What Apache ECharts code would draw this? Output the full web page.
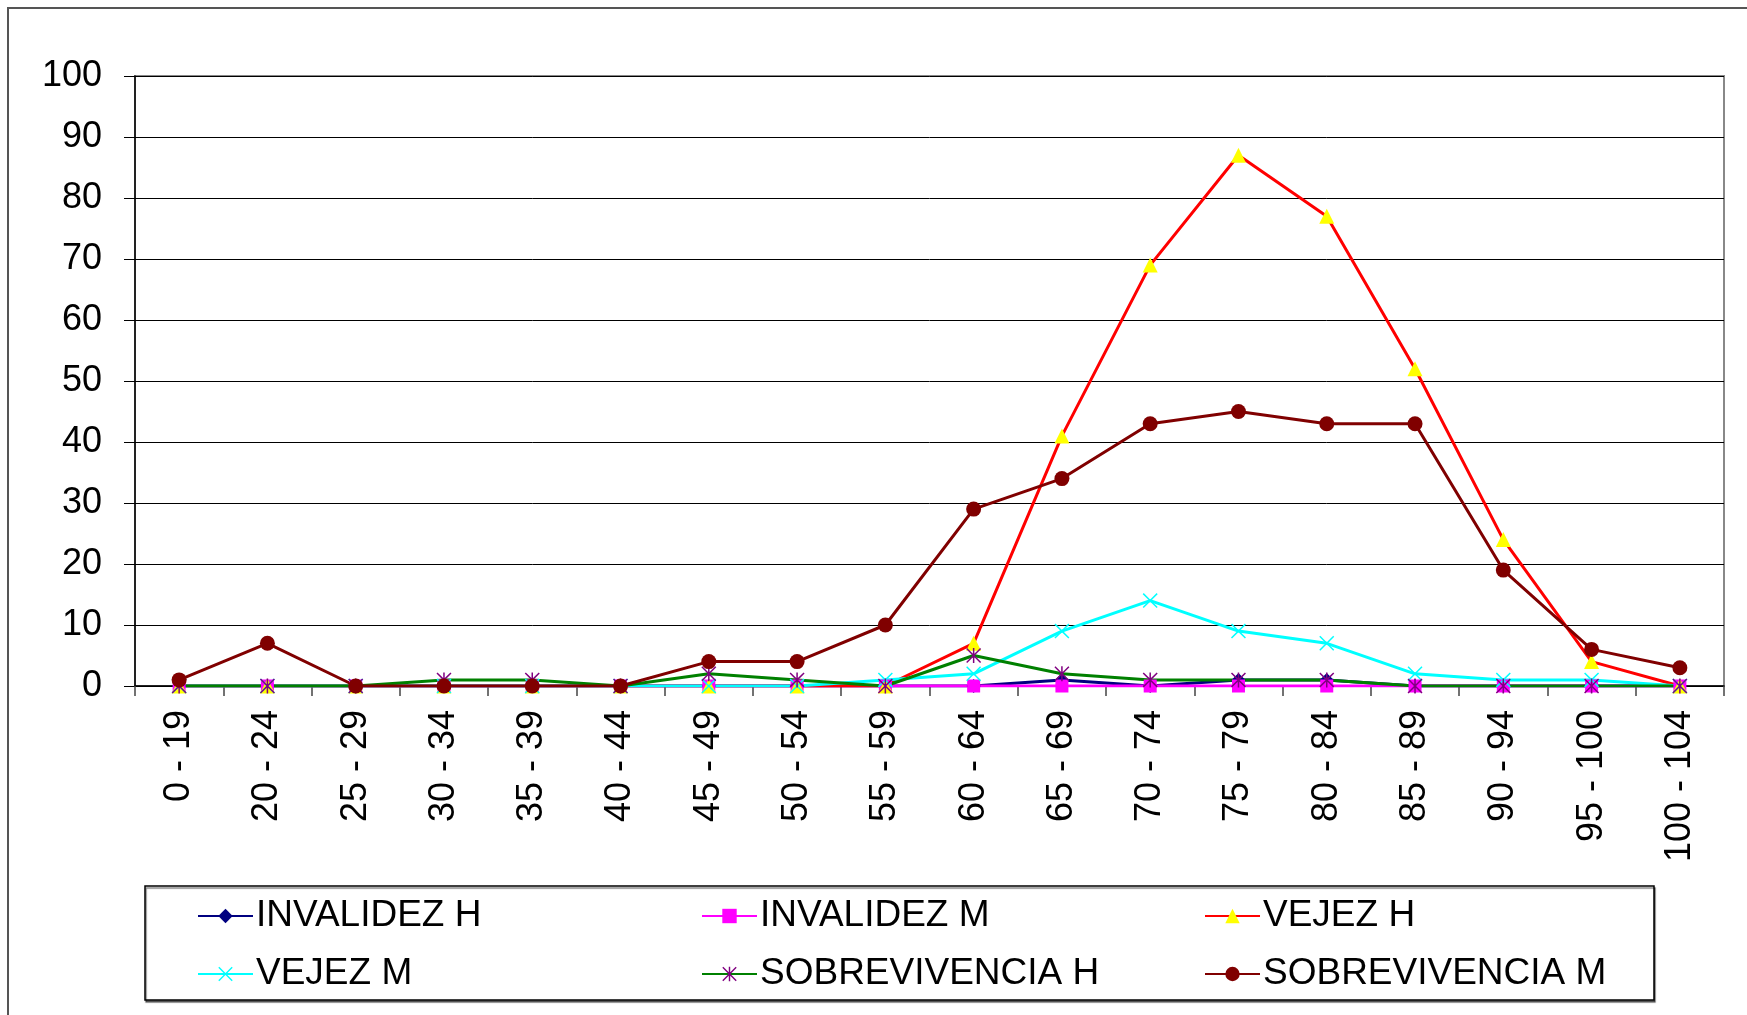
<!DOCTYPE html>
<html>
<head>
<meta charset="utf-8">
<script src="https://cdn.jsdelivr.net/npm/echarts@6/dist/echarts.min.js"></script>
<style>
html,body{margin:0;padding:0;background:#fff;}
#chart{width:1747px;height:1015px;}
</style>
</head>
<body>
<div id="chart"></div>
<script>
const categories = ["0 - 19","20 - 24","25 - 29","30 - 34","35 - 39","40 - 44","45 - 49","50 - 54","55 - 59","60 - 64","65 - 69","70 - 74","75 - 79","80 - 84","85 - 89","90 - 94","95 - 100","100 - 104"];
const invalidezH = [0,0,0,0,0,0,0,0,0,0,1,0,1,1,0,0,0,0];
const invalidezM = [0,0,0,0,0,0,0,0,0,0,0,0,0,0,0,0,0,0];
const vejezH = [0,0,0,0,0,0,0,0,0,7,41,69,87,77,52,24,4,0];
const vejezM = [0,0,0,0,0,0,0,0,1,2,9,14,9,7,2,1,1,0];
const sobrevivenciaH = [0,0,0,1,1,0,2,1,0,5,2,1,1,1,0,0,0,0];
const sobrevivenciaM = [1,7,0,0,0,0,4,4,10,29,34,43,45,43,43,19,6,3];
const yTicks = {min:0, max:100, interval:10};

const FONT = '"Liberation Sans", Arial, sans-serif';
const X_PATH = 'path://M0,7 L7,0 L50,43 L93,0 L100,7 L57,50 L100,93 L93,100 L50,57 L7,100 L0,93 L43,50 Z';
const AST_PATH = 'path://M0,7 L7,0 L50,43 L93,0 L100,7 L57,50 L100,93 L93,100 L50,57 L7,100 L0,93 L43,50 Z M45,0 L55,0 L55,100 L45,100 Z';

function mk(name, data, lineColor, symColor, symbol, size) {
  return {
    name: name, type: 'line', data: data,
    symbol: symbol, symbolSize: size,
    lineStyle: {color: lineColor, width: 3},
    itemStyle: {color: symColor, borderWidth: 0},
    emphasis: {disabled: true},
    animation: false
  };
}

const chart = echarts.init(document.getElementById('chart'));
const legendText = {fontSize: 37, fontFamily: FONT, color: '#000', lineHeight: 40, padding: [0, 0, 0, -2]};
const legendBase = {orient: 'vertical', top: 896, itemWidth: 55, itemHeight: 18, itemGap: 18, textStyle: legendText, padding: 0, selectedMode: false};
chart.setOption({
  backgroundColor: '#fff',
  animation: false,
  graphic: [
    {type: 'rect', shape: {x: 8, y: 8, width: 1780, height: 1040}, style: {fill: 'none', stroke: '#555', lineWidth: 2}, z: -10},
    {type: 'rect', shape: {x: 145, y: 886, width: 1509, height: 114}, style: {fill: '#fff', stroke: '#000', lineWidth: 1.5, shadowColor: 'rgba(0,0,0,0.5)', shadowOffsetX: 1, shadowOffsetY: 2, shadowBlur: 1}, z: -5}
  ],
  grid: {left: 135, right: 23, top: 76, bottom: 329, show: true, borderColor: '#888', borderWidth: 2, backgroundColor: 'transparent'},
  legend: [
    Object.assign({}, legendBase, {left: 197, data: ['INVALIDEZ H', 'VEJEZ M']}),
    Object.assign({}, legendBase, {left: 701, data: ['INVALIDEZ M', 'SOBREVIVENCIA H']}),
    Object.assign({}, legendBase, {left: 1204, data: ['VEJEZ H', 'SOBREVIVENCIA M']})
  ],
  xAxis: {
    type: 'category', data: categories, boundaryGap: true,
    axisLine: {lineStyle: {color: '#000', width: 1.5}},
    axisTick: {show: true, length: 10, inside: false, alignWithLabel: false, lineStyle: {color: '#444', width: 1.5}},
    axisLabel: {rotate: 90, margin: 24, fontSize: 36, fontFamily: FONT, color: '#000', interval: 0},
    splitLine: {show: false}
  },
  yAxis: {
    type: 'value', min: yTicks.min, max: yTicks.max, interval: yTicks.interval,
    axisLine: {show: true, lineStyle: {color: '#000', width: 1.5}},
    axisTick: {show: true, length: 11, lineStyle: {color: '#000', width: 1}},
    axisLabel: {margin: 33, fontSize: 36, fontFamily: FONT, color: '#000'},
    splitLine: {show: true, lineStyle: {color: '#000', width: 1}}
  },
  series: [
    mk('INVALIDEZ H', invalidezH, '#000080', '#000080', 'diamond', 14),
    mk('INVALIDEZ M', invalidezM, '#FF00FF', '#FF00FF', 'rect', 13),
    mk('VEJEZ H', vejezH, '#FF0000', '#FFFF00', 'triangle', 15),
    mk('VEJEZ M', vejezM, '#00FFFF', '#00FFFF', X_PATH, 15),
    mk('SOBREVIVENCIA H', sobrevivenciaH, '#008000', '#800080', AST_PATH, 15),
    mk('SOBREVIVENCIA M', sobrevivenciaM, '#800000', '#800000', 'circle', 15)
  ]
});
</script>
</body>
</html>
